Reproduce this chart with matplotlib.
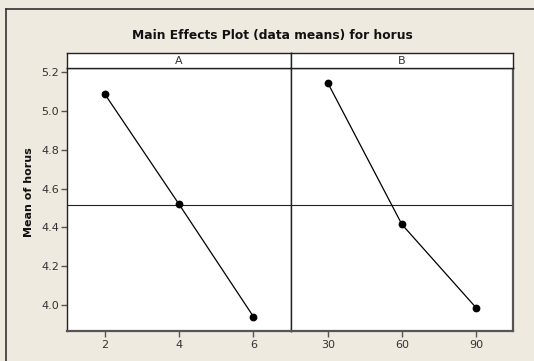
import matplotlib
matplotlib.use("Agg")
import matplotlib.pyplot as plt
from matplotlib.lines import Line2D

factors = ["A", "B"]
levels_A = ["2", "4", "6"]
means_A = [5.09, 4.52, 3.94]
levels_B = ["30", "60", "90"]
means_B = [5.146, 4.415, 3.985]
y_ticks = [4.0, 4.2, 4.4, 4.6, 4.8, 5.0, 5.2]
title = "Main Effects Plot (data means) for horus"
ylabel = "Mean of horus"

overall_mean = (sum(means_A) + sum(means_B)) / 6.0

W, H = 534, 361
BG = "#EEEAE0"
fig = plt.figure(figsize=(W / 100, H / 100), dpi=100)
fig.patch.set_facecolor(BG)

def px_axes(x0, y0, x1, y1):
    # pixel coords from top-left
    return fig.add_axes([x0 / W, (H - y1) / H, (x1 - x0) / W, (y1 - y0) / H])

# outer frame lines (left and top)
fig.add_artist(Line2D([6 / W, 6 / W], [0, (H - 9) / H], transform=fig.transFigure,
                      color="#333333", lw=1.2))
fig.add_artist(Line2D([6 / W, 1], [(H - 9) / H, (H - 9) / H], transform=fig.transFigure,
                      color="#333333", lw=1.2))

left, mid, right = 67.3, 290.6, 513.3
strip_top, plot_top, plot_bot = 52.5, 68.3, 330.7
ylim = (3.867, 5.2207)

panels = [(levels_A, means_A, left, mid), (levels_B, means_B, mid, right)]
for i, (lv, mv, x0, x1) in enumerate(panels):
    ax = px_axes(x0, plot_top, x1, plot_bot)
    ax.set_facecolor("white")
    xs = list(range(1, len(lv) + 1))
    ax.plot(xs, mv, color="black", lw=0.9, marker="o", markersize=4.6,
            markerfacecolor="black", markeredgecolor="black", zorder=3)
    ax.axhline(overall_mean, color="#222222", lw=0.8, zorder=2)
    ax.set_xlim(0.5, len(lv) + 0.5)
    ax.set_ylim(*ylim)
    ax.set_xticks(xs)
    ax.set_xticklabels(lv)
    ax.tick_params(axis="x", direction="out", length=4, width=1, color="#555555",
                   labelsize=8, labelcolor="#333333", pad=3)
    if i == 0:
        ax.set_yticks(y_ticks)
        ax.set_yticklabels([f"{v:.1f}" for v in y_ticks])
        ax.tick_params(axis="y", direction="out", length=4, width=1, color="#555555",
                       labelsize=8, labelcolor="#333333", pad=2)
        ax.set_ylabel(ylabel, fontsize=8, fontweight="bold", color="#111111")
        ax.yaxis.set_label_coords(-0.149, 0.53)
    else:
        ax.set_yticks([])
    for s in ["top", "left", "right"]:
        ax.spines[s].set_color("#222222")
        ax.spines[s].set_linewidth(1.0)
    ax.spines["bottom"].set_color("#555555")
    ax.spines["bottom"].set_linewidth(1.6)
    if i == 1:
        ax.spines["right"].set_color("#555555")
        ax.spines["right"].set_linewidth(1.6)
    # strip
    sax = px_axes(x0, strip_top, x1, plot_top)
    sax.set_facecolor("white")
    sax.set_xticks([]); sax.set_yticks([])
    for s in sax.spines.values():
        s.set_color("#222222"); s.set_linewidth(1.0)
    sax.text(0.5, 0.45, factors[i], ha="center", va="center", fontsize=8,
             color="#333333", transform=sax.transAxes)

fig.text(272 / W, (H - 35.5) / H, title, ha="center", va="center", fontsize=8.8,
         fontweight="bold", color="#111111")

fig.savefig("out.png", dpi=100, facecolor=BG)
